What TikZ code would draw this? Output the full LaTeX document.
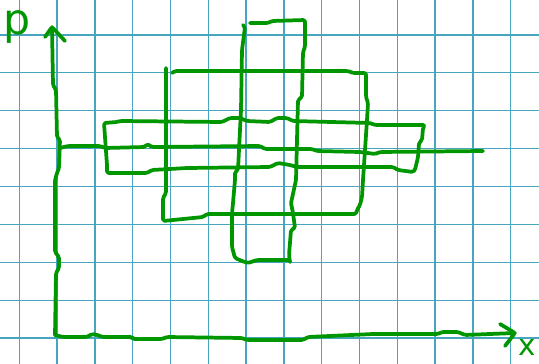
\documentclass[tikz,border=0pt]{standalone}
\usepackage{fontspec}
\setmainfont{DejaVu Sans}
\definecolor{gridblue}{RGB}{72,165,192}
\definecolor{penGreen}{RGB}{0,150,0}

\begin{document}
\begin{tikzpicture}[x=0.75pt,y=-0.75pt,gridline/.style={draw=gridblue,line width=1pt},pen/.style={draw=penGreen,line width=2.8pt,line cap=round,line join=round,rounded corners=1.2pt},lbl/.style={text=penGreen,inner sep=0pt}]
\useasboundingbox (0,0) rectangle (539,364);
\fill[white] (0,0) rectangle (539,364);
% squared paper
\foreach \gx in {0,...,13} \draw[gridline] ({19.3+37.8*\gx},0) -- ++(0,364);
\foreach \gy in {1,...,9} \draw[gridline] (0,{-3+37.9*\gy}) -- ++(539,0);
% axes
\coordinate (o) at (55,335);
\coordinate (ptip) at (52,27);
\coordinate (xtip) at (515,333);
\draw[pen] (o) -- (56,273) -- (59,268) -- (59,257) -- (55,252) -- (55,180) -- (57,173) -- (59,168) -- (60,140) -- (57,137) -- (56,90) -- (53,85) -- (ptip);
\draw[pen] (45,37) -- (ptip) -- (65,41);
\draw[pen] (o) -- (63,337) -- (87,337) -- (92,334) -- (98,335) -- (102,337) -- (132,337) -- (133,339) -- (162,339) -- (167,337) -- (242,338) -- (247,340) -- (303,340) -- (308,337) -- (373,334) -- (438,334) -- (442,332) -- (458,332) -- (465,335) -- (xtip);
\draw[pen] (500,324) -- (xtip) -- (505,346);
\node[lbl,font=\fontsize{32}{32}\selectfont] (plabel) at (17,27) {p};
\node[lbl,font=\fontsize{22}{22}\selectfont] (xlabel) at (527,347) {x};
% tall box
\draw[pen] (250,23) -- (268,23) -- (272,21) -- (305,20) -- (305,47) -- (303,52) -- (302,97) -- (298,100) -- (296,180) -- (291,203) -- (293,213) -- (295,228) -- (291,230) -- (289,255) -- (290,262);
\draw[pen] (288,260) -- (257,260) -- (248,263) -- (242,261) -- (235,258) -- (232,247) -- (232,213) -- (233,203) -- (235,180) -- (235,172) -- (238,170) -- (241,110) -- (242,50) -- (245,27) -- (243,25);
% big box
\draw[pen] (172,73) -- (175,71) -- (348,71) -- (353,73) -- (366,73) -- (366,97) -- (368,103) -- (367,120) -- (363,180) -- (362,197) -- (360,205) -- (357,210) -- (356,214) -- (207,214) -- (203,217) -- (193,218) -- (163,221) -- (163,198) -- (166,193) -- (166,68);
% wide box
\draw[pen] (104,123) -- (117,122) -- (120,121) -- (222,122) -- (230,118) -- (240,118) -- (247,121) -- (270,122) -- (277,118) -- (287,118) -- (293,121) -- (370,123) -- (375,125) -- (425,125) -- (423,128) -- (422,140) -- (419,143) -- (418,157) -- (415,170) -- (413,172) -- (398,170) -- (393,167) -- (297,167) -- (290,165) -- (278,163) -- (270,167) -- (187,168) -- (152,170) -- (147,173) -- (107,173) -- (107,165) -- cycle;
% long line
\draw[pen] (60,148) -- (68,146) -- (100,146) -- (105,148) -- (145,147) -- (147,144) -- (152,147) -- (260,146) -- (265,149) -- (312,149) -- (317,151) -- (360,152) -- (368,153) -- (375,154) -- (380,152) -- (483,151);
\end{tikzpicture}
\end{document}
